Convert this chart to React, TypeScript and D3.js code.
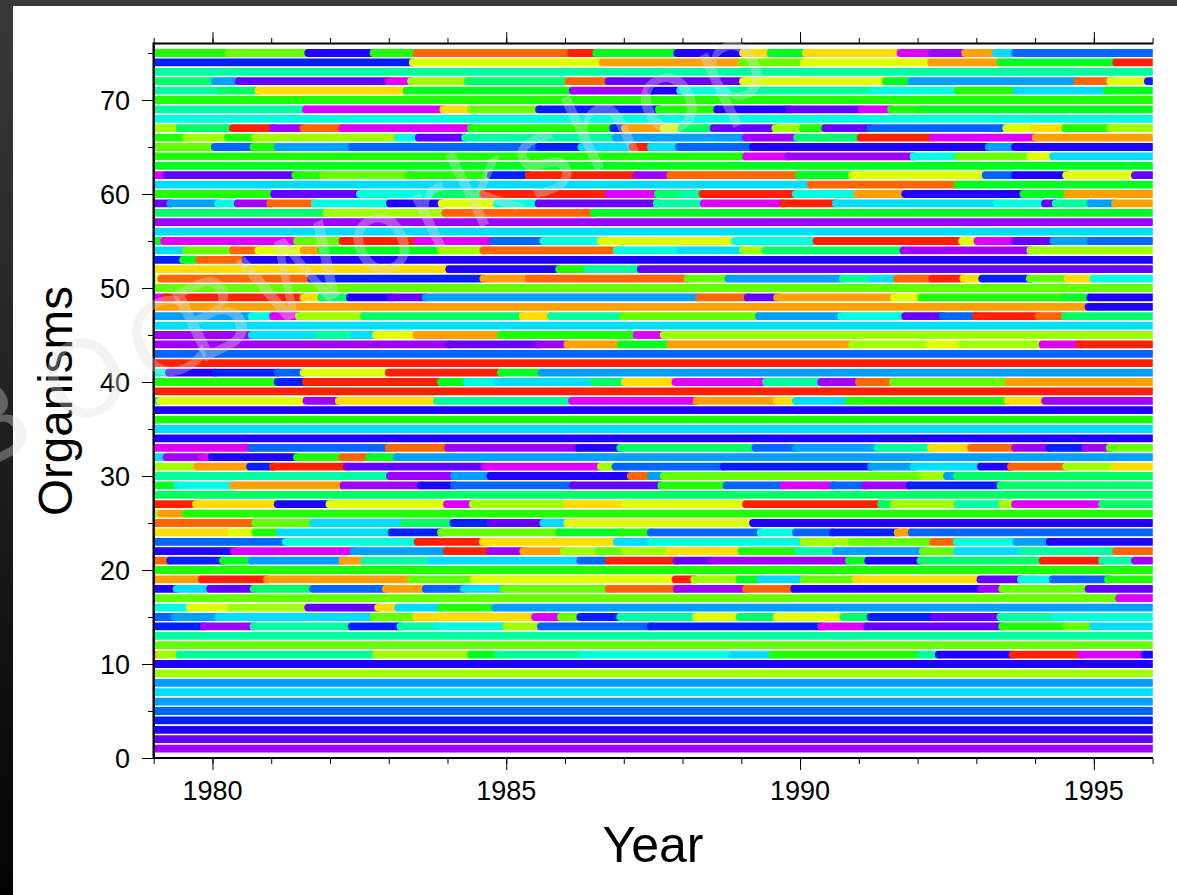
import React, { useEffect, useRef } from "react";
import * as d3 from "d3";

type Seg = [number, string];

const stateColours: Record<string, string> = {
  a: "#ff2000", b: "#ff6600", c: "#ffa000", d: "#ffdd00", e: "#e0ff00",
  f: "#a0ff00", g: "#66ff00", h: "#20ff00", i: "#00ff20", j: "#00ff66",
  k: "#00ffa0", l: "#00ffe0", m: "#00ddff", n: "#00a0ff", o: "#0066ff",
  p: "#0020ff", q: "#2000ff", r: "#6600ff", s: "#a000ff", t: "#e000ff",
};

const row75: Seg[] = [[1979,"h"],[1980.28,"g"],[1981.63,"q"],[1982.74,"h"],[1983.47,"b"],[1986.1,"a"],[1986.53,"i"],[1987.91,"q"],[1989.03,"d"],[1989.5,"i"],[1990.1,"d"],[1991.71,"t"],[1992.25,"s"],[1992.81,"c"],[1993.33,"m"],[1993.66,"o"]];
const row74: Seg[] = [[1979,"p"],[1983.41,"e"],[1986.64,"c"],[1989.01,"g"],[1990.06,"e"],[1992.23,"c"],[1993.41,"i"],[1995.38,"a"]];
const row73: Seg[] = [[1979,"k"]];
const row72: Seg[] = [[1979,"j"],[1980.04,"n"],[1980.45,"r"],[1983,"t"],[1983.38,"f"],[1984.35,"j"],[1986.06,"b"],[1986.74,"r"],[1989.03,"e"],[1991.46,"i"],[1991.9,"n"],[1994.72,"b"],[1995.28,"e"],[1995.92,"p"]];
const row71: Seg[] = [[1979,"k"],[1980.15,"j"],[1980.78,"d"],[1983.3,"i"],[1986.13,"s"],[1987.47,"q"],[1987.96,"l"],[1988.87,"k"],[1991.25,"l"],[1992.68,"h"],[1993.68,"m"],[1995.21,"i"]];
const row70: Seg[] = [[1979,"h"]];
const row69: Seg[] = [[1979,"k"],[1981.59,"t"],[1983.93,"d"],[1984.4,"g"],[1985.56,"p"],[1987.6,"h"],[1988.59,"q"],[1989.82,"r"],[1991.05,"t"],[1991.55,"h"],[1992.05,"i"]];
const row68: Seg[] = [[1979,"l"]];
const row67: Seg[] = [[1979,"f"],[1979.44,"j"],[1980.35,"a"],[1981.03,"s"],[1981.55,"b"],[1982.21,"t"],[1984.4,"h"],[1986.82,"p"],[1987.02,"c"],[1987.68,"e"],[1987.98,"j"],[1988.53,"r"],[1989.58,"f"],[1990.05,"h"],[1990.43,"r"],[1991.2,"o"],[1993.51,"e"],[1993.97,"d"],[1994.51,"h"],[1995.28,"f"]];
const row66: Seg[] = [[1979,"h"],[1979.55,"f"],[1980.26,"h"],[1980.73,"f"],[1983.16,"l"],[1983.51,"r"],[1984.3,"k"],[1986.86,"n"],[1989.08,"s"],[1989.95,"j"],[1991.03,"a"],[1992.26,"t"],[1994.01,"c"]];
const row65: Seg[] = [[1979,"g"],[1980.04,"o"],[1980.7,"h"],[1981.11,"n"],[1982.37,"o"],[1985.56,"p"],[1986.28,"m"],[1987.15,"a"],[1987.46,"m"],[1987.94,"o"],[1989.2,"q"],[1993.21,"n"],[1993.66,"q"]];
const row64: Seg[] = [[1979,"h"],[1989.08,"t"],[1989.8,"s"],[1991.93,"l"],[1992.69,"g"],[1993.92,"e"],[1994.31,"m"]];
const row63: Seg[] = [[1979,"i"]];
const row62: Seg[] = [[1979,"t"],[1979.22,"r"],[1981.41,"h"],[1981.88,"g"],[1983.34,"h"],[1984.74,"p"],[1985.38,"a"],[1987.22,"s"],[1987.79,"b"],[1989.98,"i"],[1990.89,"e"],[1993.16,"o"],[1993.66,"q"],[1994.53,"e"],[1995.7,"r"]];
const row61: Seg[] = [[1979,"m"],[1990.18,"b"],[1992.68,"i"]];
const row60: Seg[] = [[1979,"h"],[1981.05,"r"],[1982.51,"l"],[1983.82,"j"],[1984.61,"a"],[1986.74,"t"],[1987.58,"j"],[1987.99,"k"],[1988.34,"a"],[1989.93,"l"],[1990.97,"c"],[1991.79,"q"],[1993.8,"i"],[1994.55,"c"]];
const row59: Seg[] = [[1979,"r"],[1979.28,"n"],[1980.1,"l"],[1980.43,"s"],[1980.98,"b"],[1981.74,"l"],[1983.02,"q"],[1983.9,"e"],[1984.84,"l"],[1985.55,"r"],[1987.56,"k"],[1988.36,"t"],[1989.71,"a"],[1990.61,"m"],[1993.35,"l"],[1994.17,"r"],[1994.35,"k"],[1994.94,"n"],[1995.36,"c"]];
const row58: Seg[] = [[1979,"j"],[1981.94,"f"],[1983.96,"b"],[1986.49,"i"]];
const row57: Seg[] = [[1979,"s"]];
const row56: Seg[] = [[1979,"m"]];
const row55: Seg[] = [[1979,"i"],[1979.18,"t"],[1981.44,"g"],[1982.21,"a"],[1983.49,"t"],[1984.78,"o"],[1985.63,"l"],[1986.61,"e"],[1988.89,"l"],[1990.28,"a"],[1992.76,"e"],[1993.02,"t"],[1993.66,"r"],[1994.31,"n"],[1994.94,"o"]];
const row54: Seg[] = [[1979,"m"],[1979.55,"g"],[1980.35,"b"],[1980.78,"e"],[1981.55,"c"],[1981.85,"i"],[1983.89,"f"],[1984.61,"b"],[1986.88,"l"],[1987.96,"m"],[1989.03,"f"],[1989.41,"j"],[1991.76,"s"],[1993.92,"f"]];
const row53: Seg[] = [[1979,"p"],[1979.5,"i"],[1979.77,"b"],[1980.56,"q"]];
const row52: Seg[] = [[1979,"d"],[1984.03,"q"],[1985.9,"h"],[1986.38,"k"],[1987.29,"r"]];
const row51: Seg[] = [[1979,"e"],[1979.13,"b"],[1981.68,"p"],[1984.61,"c"],[1985.38,"b"],[1988.09,"g"],[1988.78,"n"],[1990.73,"k"],[1991.21,"m"],[1991.65,"b"],[1992.25,"a"],[1992.78,"d"],[1993.1,"p"],[1993.91,"g"],[1994.56,"d"],[1994.99,"l"]];
const row50: Seg[] = [[1979,"g"]];
const row49: Seg[] = [[1979,"t"],[1979.2,"a"],[1981.55,"d"],[1981.85,"j"],[1982.34,"q"],[1983.04,"r"],[1983.63,"n"],[1988.28,"b"],[1989.11,"r"],[1989.61,"c"],[1991.6,"e"],[1992.06,"h"],[1994.51,"i"],[1994.94,"q"]];
const row48: Seg[] = [[1979,"c"],[1994.91,"q"]];
const row47: Seg[] = [[1979,"n"],[1980.67,"l"],[1981.03,"t"],[1981.47,"f"],[1982.58,"j"],[1985.28,"d"],[1985.76,"k"],[1986.98,"g"],[1989.3,"n"],[1990.7,"l"],[1991.79,"r"],[1992.43,"o"],[1992.99,"a"],[1994.06,"b"],[1994.51,"j"]];
const row46: Seg[] = [[1979,"m"]];
const row45: Seg[] = [[1979,"s"],[1980.67,"m"],[1981.82,"k"],[1982.4,"m"],[1982.78,"e"],[1983.47,"c"],[1984.91,"h"],[1987.22,"t"],[1987.68,"f"]];
const row44: Seg[] = [[1979,"s"],[1984.03,"r"],[1985.55,"s"],[1986.04,"c"],[1986.95,"i"],[1987.79,"c"],[1990.89,"f"],[1992.21,"e"],[1992.76,"f"],[1994.13,"t"],[1994.76,"a"]];
const row43: Seg[] = [[1979,"o"]];
const row42: Seg[] = [[1979,"a"]];
const row41: Seg[] = [[1979,"l"],[1979.26,"q"],[1980.05,"p"],[1981.11,"o"],[1981.55,"e"],[1983,"a"],[1984.91,"i"],[1985.6,"n"]];
const row40: Seg[] = [[1979,"h"],[1981.11,"p"],[1981.59,"a"],[1983.89,"i"],[1984.33,"l"],[1984.84,"m"],[1986.48,"j"],[1987.02,"d"],[1987.88,"t"],[1989.42,"k"],[1990.36,"s"],[1991,"b"],[1991.58,"g"],[1993.54,"c"]];
const row39: Seg[] = [[1979,"a"]];
const row38: Seg[] = [[1979,"m"],[1979.11,"e"],[1981.6,"s"],[1982.15,"d"],[1983.82,"k"],[1986.12,"t"],[1988.24,"c"],[1989.61,"d"],[1989.93,"m"],[1990.83,"h"],[1993.54,"d"],[1994.17,"s"]];
const row37: Seg[] = [[1979,"q"]];
const row36: Seg[] = [[1979,"h"]];
const row35: Seg[] = [[1979,"m"]];
const row34: Seg[] = [[1979,"q"]];
const row33: Seg[] = [[1979,"t"],[1980.66,"o"],[1983,"b"],[1984.01,"s"],[1986.23,"q"],[1986.94,"j"],[1989.24,"o"],[1989.93,"n"],[1991.32,"k"],[1992.23,"d"],[1992.91,"b"],[1993.66,"s"],[1994.25,"p"],[1994.85,"s"],[1995.27,"g"]];
const row32: Seg[] = [[1979,"m"],[1979.22,"s"],[1979.82,"t"],[1979.99,"q"],[1981.44,"h"],[1982.21,"b"],[1982.67,"i"],[1983.14,"n"]];
const row31: Seg[] = [[1979,"f"],[1979.74,"c"],[1980.64,"p"],[1981.03,"a"],[1982.29,"r"],[1984.64,"t"],[1986.61,"f"],[1986.86,"o"],[1988.7,"p"],[1991.21,"n"],[1991.93,"m"],[1993.08,"q"],[1993.59,"b"],[1994.53,"f"],[1995.36,"d"]];
const row30: Seg[] = [[1979,"k"],[1983.02,"s"],[1984.11,"n"],[1984.73,"q"],[1987.12,"b"],[1987.46,"n"],[1987.68,"g"],[1992.09,"f"],[1992.5,"n"],[1992.67,"j"]];
const row29: Seg[] = [[1979,"i"],[1979.4,"l"],[1980.35,"c"],[1982.23,"s"],[1983.55,"q"],[1984.11,"o"],[1986.14,"r"],[1987.64,"h"],[1988.75,"o"],[1989.72,"t"],[1990.57,"o"],[1991.11,"s"],[1991.87,"p"],[1993.41,"j"]];
const row28: Seg[] = [[1979,"j"]];
const row27: Seg[] = [[1979,"a"],[1979.72,"d"],[1981.11,"q"],[1981.99,"e"],[1983.99,"t"],[1984.43,"f"],[1986.04,"d"],[1987.02,"e"],[1989.08,"a"],[1991.38,"j"],[1991.59,"f"],[1992.68,"k"],[1993.44,"f"],[1993.66,"t"],[1995.14,"j"]];
const row26: Seg[] = [[1979,"f"],[1979.13,"c"],[1979.55,"h"]];
const row25: Seg[] = [[1979,"b"],[1980.73,"g"],[1981.71,"m"],[1983.25,"j"],[1984.1,"p"],[1984.73,"r"],[1985.63,"m"],[1986.04,"e"],[1989.2,"q"]];
const row24: Seg[] = [[1979,"d"],[1980.32,"e"],[1980.73,"h"],[1981.14,"m"],[1983.05,"p"],[1983.89,"g"],[1985.9,"i"],[1986.98,"h"],[1987.46,"o"],[1989.33,"l"],[1989.93,"o"],[1990.56,"p"],[1991.66,"c"],[1991.9,"o"]];
const row23: Seg[] = [[1979,"o"],[1981.25,"l"],[1983.49,"a"],[1984.6,"d"],[1986.88,"m"],[1987.47,"l"],[1990.06,"f"],[1990.89,"g"],[1992.26,"b"],[1992.67,"l"],[1993.68,"n"],[1994.25,"q"]];
const row22: Seg[] = [[1979,"q"],[1980.37,"t"],[1982.4,"n"],[1983.99,"a"],[1984.73,"s"],[1985.29,"c"],[1985.98,"f"],[1986.57,"g"],[1987.02,"f"],[1987.79,"d"],[1989,"h"],[1989.96,"k"],[1990.61,"n"],[1992.09,"g"],[1992.67,"m"],[1993.79,"k"],[1995.38,"b"]];
const row21: Seg[] = [[1979,"b"],[1979.28,"p"],[1980.18,"i"],[1980.67,"n"],[1982.21,"c"],[1982.58,"k"],[1983.71,"m"],[1986.26,"o"],[1986.74,"a"],[1987.9,"r"],[1988.49,"s"],[1990.83,"i"],[1991.16,"q"],[1992.05,"j"],[1994.13,"a"],[1995.14,"k"],[1995.7,"s"]];
const row20: Seg[] = [[1979,"h"]];
const row19: Seg[] = [[1979,"c"],[1979.82,"a"],[1980.93,"c"],[1983.38,"g"],[1984.45,"e"],[1987.88,"a"],[1988.2,"f"],[1988.97,"i"],[1989.33,"m"],[1990.06,"g"],[1990.95,"d"],[1993.07,"r"],[1993.76,"l"],[1994.3,"o"],[1995.24,"h"]];
const row18: Seg[] = [[1979,"q"],[1979.39,"m"],[1979.96,"r"],[1980.7,"j"],[1981.71,"o"],[1982.95,"c"],[1983.63,"o"],[1984.28,"m"],[1984.95,"g"],[1986.74,"b"],[1987.9,"s"],[1989.08,"b"],[1989.9,"q"],[1993.08,"s"],[1993.44,"g"],[1994.91,"r"]];
const row17: Seg[] = [[1979,"g"],[1995.43,"t"]];
const row16: Seg[] = [[1979,"l"],[1979.61,"e"],[1980.32,"f"],[1981.63,"r"],[1982.82,"d"],[1983.16,"m"],[1983.89,"h"],[1984.81,"n"]];
const row15: Seg[] = [[1979,"o"],[1979.36,"n"],[1980.1,"m"],[1982.74,"g"],[1983.47,"d"],[1985.49,"t"],[1985.93,"g"],[1986.26,"p"],[1986.94,"k"],[1988.23,"e"],[1988.97,"j"],[1989.6,"e"],[1990.74,"j"],[1991.2,"p"],[1992.27,"r"],[1993.41,"k"],[1994.34,"l"]];
const row14: Seg[] = [[1979,"p"],[1979.85,"s"],[1980.7,"k"],[1982.37,"p"],[1983.2,"k"],[1983.82,"l"],[1985,"f"],[1985.59,"o"],[1987.46,"p"],[1990.36,"t"],[1991.14,"r"],[1993.44,"h"],[1994.53,"g"],[1994.99,"m"]];
const row13: Seg[] = [[1979,"k"]];
const row12: Seg[] = [[1979,"g"]];
const row11: Seg[] = [[1979,"c"],[1979.11,"f"],[1979.44,"k"],[1982.78,"f"],[1984.4,"i"],[1984.86,"k"],[1986.31,"l"],[1988.86,"m"],[1989.53,"h"],[1992.05,"k"],[1992.36,"q"],[1993.62,"a"],[1994.78,"t"],[1995.87,"q"]];
const row10: Seg[] = [[1979,"q"]];
const row9: Seg[] = [[1979,"f"]];
const row8: Seg[] = [[1979,"n"]];
const row7: Seg[] = [[1979,"m"]];
const row6: Seg[] = [[1979,"n"]];
const row5: Seg[] = [[1979,"o"]];
const row4: Seg[] = [[1979,"p"]];
const row3: Seg[] = [[1979,"q"]];
const row2: Seg[] = [[1979,"r"]];
const row1: Seg[] = [[1979,"s"]];

const organisms: Seg[][] = [row1,row2,row3,row4,row5,row6,row7,row8,row9,row10,row11,row12,row13,row14,row15,row16,row17,row18,row19,row20,row21,row22,row23,row24,row25,row26,row27,row28,row29,row30,row31,row32,row33,row34,row35,row36,row37,row38,row39,row40,row41,row42,row43,row44,row45,row46,row47,row48,row49,row50,row51,row52,row53,row54,row55,row56,row57,row58,row59,row60,row61,row62,row63,row64,row65,row66,row67,row68,row69,row70,row71,row72,row73,row74,row75];

const yearMajor = [1980, 1985, 1990, 1995];
const yearMinor = d3.range(1979, 1997);
const orgMajor = [0, 10, 20, 30, 40, 50, 60, 70];
const orgMinor = d3.range(0, 76, 5);
const watermarkText = "BOCBWorkshop";
const watermarkGlyphX = [-245, -147, -53, 0, 78, 188, 258, 307, 374, 435, 508, 578];
const FONT = '"Liberation Sans", Arial, sans-serif';

export default function App() {
  const ref = useRef<SVGSVGElement>(null);
  useEffect(() => {
    const svg = d3.select(ref.current);
    svg.selectAll("*").remove();
    const W = 1177, H = 895;
    const x = d3.scaleLinear().domain([1979, 1996]).range([153.7, 1152.6]);
    const y = d3.scaleLinear().domain([0, 76]).range([758, 43.6]);

    const defs = svg.append("defs");
    const bg = defs.append("linearGradient").attr("id", "frame").attr("x1", 0).attr("x2", 0).attr("y1", 0).attr("y2", 1);
    bg.append("stop").attr("offset", 0).attr("stop-color", "#3a3a3a");
    bg.append("stop").attr("offset", 1).attr("stop-color", "#030303");
    defs.append("clipPath").attr("id", "plot").append("rect")
      .attr("x", 155).attr("y", 44).attr("width", 1152.8 - 155).attr("height", 714);

    svg.append("rect").attr("width", W).attr("height", H).attr("fill", "url(#frame)");
    svg.append("rect").attr("x", 13).attr("y", 6).attr("width", W - 13).attr("height", H - 6).attr("fill", "#fff");

    const line = d3.line<[number, number]>().x((d) => x(d[0])).y((d) => y(d[1]));
    const plot = svg.append("g").attr("clip-path", "url(#plot)");
    organisms.forEach((segs, r) => {
      segs.forEach((s, k) => {
        const end = k + 1 < segs.length ? segs[k + 1][0] : 1996.2;
        plot.append("path")
          .attr("d", line([[s[0], r + 1], [end, r + 1]]))
          .attr("fill", "none")
          .attr("stroke", stateColours[s[1]])
          .attr("stroke-width", 7.8)
          .attr("stroke-linecap", "round");
      });
    });

    const styleAxis = (g: any, w: number) => {
      g.select(".domain").remove();
      g.selectAll("line").attr("stroke", "#000").attr("stroke-width", w);
      g.selectAll("text").remove();
    };
    const axes = svg.append("g");
    const mk = (axis: any, tf: string, w = 1) => axes.append("g").attr("transform", tf).call(axis).call((g: any) => styleAxis(g, w));
    mk(d3.axisBottom(x).tickValues(yearMinor).tickSize(5.5).tickFormat(() => ""), "translate(0,758.5)");
    mk(d3.axisBottom(x).tickValues(yearMajor).tickSize(11.5).tickFormat(() => ""), "translate(0,758.5)");
    mk(d3.axisTop(x).tickValues(yearMinor).tickSize(5.5).tickFormat(() => ""), "translate(0,43.5)");
    mk(d3.axisTop(x).tickValues(yearMajor).tickSize(11.5).tickFormat(() => ""), "translate(0,43.5)");
    mk(d3.axisLeft(y).tickValues(orgMinor).tickSize(5.5).tickFormat(() => ""), "translate(153.5,0)");
    mk(d3.axisLeft(y).tickValues(orgMajor).tickSize(11.5).tickFormat(() => ""), "translate(153.5,0)");

    const frameLine = (x1: number, y1: number, x2: number, y2: number, w: number) =>
      axes.append("line").attr("x1", x1).attr("y1", y1).attr("x2", x2).attr("y2", y2).attr("stroke", "#000").attr("stroke-width", w);
    frameLine(x(1979), y(76), x(1996) + 0.5, y(76), 2);
    frameLine(x(1979), y(0), x(1996) + 0.5, y(0), 2);
    frameLine(x(1979), y(76) - 1, x(1979), y(0) + 1, 2.4);

    const labels = svg.append("g").attr("font-family", FONT).attr("fill", "#000");
    yearMajor.forEach((v) => labels.append("text").attr("x", x(v)).attr("y", 800).attr("text-anchor", "middle").attr("font-size", 27).text(v));
    orgMajor.forEach((v) => labels.append("text").attr("x", 130).attr("y", y(v) + 10).attr("text-anchor", "end").attr("font-size", 27).text(v));
    labels.append("text").attr("x", 653).attr("y", 862).attr("text-anchor", "middle").attr("font-size", 50).text("Year");
    labels.append("text").attr("transform", "translate(72,401) rotate(-90)").attr("text-anchor", "middle").attr("font-size", 47.6).text("Organisms");

    svg.append("text")
      .attr("transform", "translate(196,366) rotate(-26)")
      .attr("x", watermarkGlyphX.join(" "))
      .attr("font-family", '"DejaVu Sans", sans-serif')
      .attr("font-size", 105)
      .attr("fill", "#dcdcdc")
      .attr("fill-opacity", 0.35)
      .text(watermarkText);
  }, []);
  return <svg ref={ref} width={1177} height={895} style={{ position: "fixed", left: 0, top: 0, display: "block" }} />;
}
